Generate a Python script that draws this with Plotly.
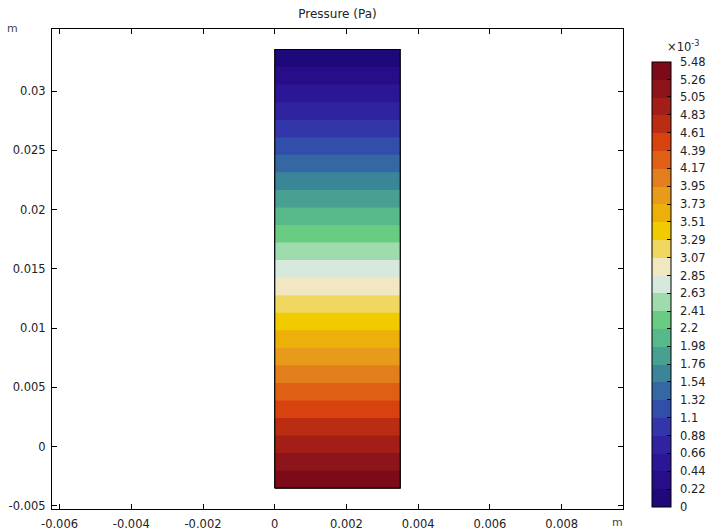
import plotly.graph_objects as go

# geometry of the domain (m)
x_domain = [0.0, 0.0035]
y_domain = [-0.0035, 0.0335]

# pressure at the bottom and top edge of the domain (Pa)
p_bottom = 5.48e-3
p_top = 0.0

# colour bar levels (x10^-3 Pa)
level_labels = ['0', '0.22', '0.44', '0.66', '0.88', '1.1', '1.32', '1.54', '1.76',
                '1.98', '2.2', '2.41', '2.63', '2.85', '3.07', '3.29', '3.51', '3.73',
                '3.95', '4.17', '4.39', '4.61', '4.83', '5.05', '5.26', '5.48']

# band colours, lowest to highest
band_colors = ['#1f087a', '#270d88', '#2b1795', '#2f23a0', '#3236a8', '#314eaa',
               '#3568a2', '#3a8598', '#47a090', '#57b88a', '#6acc82', '#9edcae',
               '#d6e9dc', '#f1e8c2', '#f0d860', '#f2ca00', '#ebb00a', '#e89a1a',
               '#e37e1c', '#df6014', '#d8420e', '#bb2d12', '#a21e16', '#8c141a',
               '#7c0a18']

x_ticks = [-0.006, -0.004, -0.002, 0, 0.002, 0.004, 0.006, 0.008]
x_tick_text = ['-0.006', '-0.004', '-0.002', '0', '0.002', '0.004', '0.006', '0.008']
y_ticks = [-0.005, 0, 0.005, 0.01, 0.015, 0.02, 0.025, 0.03]
y_tick_text = ['-0.005', '0', '0.005', '0.01', '0.015', '0.02', '0.025', '0.03']

FONT = 'DejaVu Sans'
n_bands = len(band_colors)
n_levels = n_bands + 1
level_vals = [float(t) * 1e-3 for t in level_labels]

# plotly maps band k of a filled contour to colorscale position (k+1)/n_levels
scale = []
for k, c in enumerate(band_colors):
    lo = 0.0 if k == 0 else (k + 0.5) / n_levels
    hi = 1.0 if k == n_bands - 1 else (k + 1.5) / n_levels
    scale.append([lo, c])
    scale.append([hi, c])

fig = go.Figure()

fig.add_trace(go.Contour(
    x=x_domain,
    y=y_domain,
    z=[[p_bottom, p_bottom], [p_top, p_top]],
    zmin=p_top, zmax=p_bottom,
    contours=dict(start=p_top, end=p_bottom, size=(p_bottom - p_top) / n_bands,
                  coloring='fill', showlines=False),
    line=dict(width=0),
    colorscale=scale,
    colorbar=dict(
        x=1.0508, xanchor='left', xpad=0,
        y=0.4677, yanchor='middle', ypad=0,
        len=445, lenmode='pixels', thickness=19,
        outlinecolor='black', outlinewidth=1,
        tickmode='array', tickvals=level_vals,
        ticktext=['\u2002' + t for t in level_labels],
        ticks='inside', ticklen=4, tickcolor='black',
        tickfont=dict(family=FONT, size=11.5, color='#222'),
    ),
    hoverinfo='skip',
))

# outline of the domain
fig.add_trace(go.Scatter(
    x=[x_domain[0], x_domain[1], x_domain[1], x_domain[0], x_domain[0]],
    y=[y_domain[0], y_domain[0], y_domain[1], y_domain[1], y_domain[0]],
    mode='lines', line=dict(color='black', width=1.2),
    showlegend=False, hoverinfo='skip',
))

axis_style = dict(
    showline=True, linecolor='black', linewidth=1, mirror='ticks',
    ticks='inside', ticklen=5, tickcolor='black', showgrid=False, zeroline=False,
    tickfont=dict(family=FONT, size=11.5, color='#222'), tickmode='array',
)

fig.update_layout(
    width=710, height=532,
    margin=dict(l=52, r=87, t=29, b=23, autoexpand=False),
    paper_bgcolor='white', plot_bgcolor='white',
    showlegend=False,
    title=dict(text='Pressure (Pa)', x=0.5, xref='paper', y=1 - 14 / 532, yanchor='middle',
               font=dict(family=FONT, size=12, color='#222')),
    xaxis=dict(range=[-0.00621, 0.00971], tickvals=x_ticks, ticktext=x_tick_text,
               ticklabelstandoff=4, **axis_style),
    yaxis=dict(range=[-0.005254, 0.03523], tickvals=y_ticks, ticktext=y_tick_text,
               ticklabelstandoff=3, **axis_style),
    annotations=[
        dict(text='m', x=-0.0692, y=1.002, xref='paper', yref='paper', showarrow=False,
             xanchor='center', yanchor='middle', font=dict(family=FONT, size=11, color='#444')),
        dict(text='m', x=0.9895, y=-0.029, xref='paper', yref='paper', showarrow=False,
             xanchor='center', yanchor='middle', font=dict(family=FONT, size=11, color='#444')),
        dict(text='×10<sup>-3</sup>', x=1.1052, y=0.9625, xref='paper', yref='paper',
             showarrow=False, xanchor='center', yanchor='middle',
             font=dict(family=FONT, size=11.5, color='#222')),
    ],
)

# drop the browser's default page margin so the figure sits at the window's corner
fig.write_html('out.html', config={'displayModeBar': False},
               post_script="document.body.style.margin='0';")
